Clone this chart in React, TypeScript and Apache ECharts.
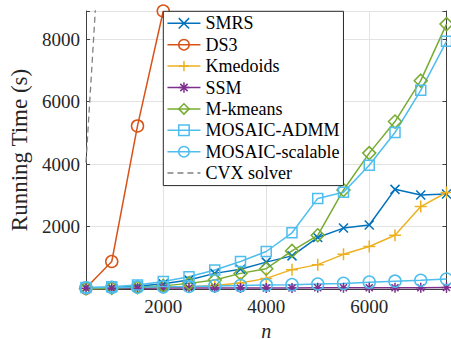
import React, { useEffect, useRef } from "react";
import * as echarts from "echarts";

const xs = [500, 1000, 1500, 2000, 2500, 3000, 3500, 4000, 4500, 5000, 5500, 6000, 6500, 7000, 7500];
const smrs = [40, 50, 90, 170, 290, 500, 630, 860, 1060, 1650, 1950, 2050, 3190, 3010, 3040];
const ds3X = [500, 1000, 1500, 2000];
const ds3 = [30, 880, 5220, 8900];
const kmedoids = [10, 20, 30, 50, 70, 110, 190, 340, 620, 780, 1110, 1360, 1720, 2640, 3090];
const ssm = [25, 25, 28, 30, 30, 32, 33, 35, 35, 38, 38, 40, 40, 42, 45];
const mkmeans = [15, 30, 60, 100, 180, 290, 500, 650, 1220, 1720, 3170, 4350, 5360, 6670, 8480];
const admm = [50, 75, 130, 240, 390, 610, 880, 1200, 1800, 2900, 3100, 3960, 5010, 6360, 7930];
const scalable = [40, 50, 60, 70, 80, 100, 110, 130, 140, 160, 180, 220, 250, 280, 320];
const cvxX = [500, 1000];
const cvx = [4050, 17500];

const names = ["SMRS", "DS3", "Kmedoids", "SSM", "M-kmeans", "MOSAIC-ADMM", "MOSAIC-scalable", "CVX solver"];

const FONT = "Liberation Serif";
const symX = "path://M0,0L10,10M0,10L10,0";
const symPlus = "path://M5,0L5,10M0,5L10,5";
const symStar = "path://M5,0L5,10M0,5L10,5M1.5,1.5L8.5,8.5M1.5,8.5L8.5,1.5";

function pts(x: number[], y: number[]) {
  return x.map((v, i) => [v, y[i]]);
}

function mk(name: string, data: number[][], color: string, symbol: string, size: number) {
  return {
    name,
    type: "line",
    data,
    symbol,
    symbolSize: size,
    showSymbol: true,
    lineStyle: { color, width: 1.5 },
    itemStyle: { color: "none", borderColor: color, borderWidth: 1.5 },
    emphasis: { disabled: true },
    clip: true,
  };
}

export default function App() {
  const ref = useRef<HTMLDivElement>(null);
  useEffect(() => {
    const chart = echarts.init(ref.current!, undefined, { renderer: "svg" });
    const axisColor = "#404040";
    const baseX = {
      type: "value",
      min: 500,
      max: 7500,
      splitNumber: 4,
      minInterval: 2000,
      maxInterval: 2000,
      axisLine: { show: true, lineStyle: { color: axisColor, width: 1 } },
      axisTick: { show: true, inside: true, length: 4, lineStyle: { color: axisColor } },
    };
    const baseY = {
      type: "value",
      min: 0,
      max: 8900,
      interval: 2000,
      axisLine: { show: true, lineStyle: { color: axisColor, width: 1 } },
      axisTick: { show: true, inside: true, length: 4, lineStyle: { color: axisColor } },
    };
    chart.setOption({
      animation: false,
      backgroundColor: "#fff",
      textStyle: { fontFamily: FONT },
      grid: { left: 86, right: 4.5, top: 11, bottom: 50, containLabel: false, outerBoundsMode: "none" },
      xAxis: [
        {
          ...baseX,
          position: "bottom",
          name: "n",
          nameLocation: "middle",
          nameGap: 27,
          nameTextStyle: { fontFamily: FONT, fontSize: 20, lineHeight: 20, fontStyle: "italic", color: "#262626" },
          axisLabel: {
            margin: 8,
            fontFamily: FONT,
            fontSize: 19,
            color: "#262626",
            formatter: (v: number) => (v % 2000 === 0 ? String(v) : ""),
          },
          splitLine: { show: true, lineStyle: { color: "#e3e3e3", width: 1 } },
        },
        {
          ...baseX,
          position: "top",
          axisLabel: { show: false },
          splitLine: { show: false },
        },
      ],
      yAxis: [
        {
          ...baseY,
          position: "left",
          name: "Running Time (s)",
          nameLocation: "middle",
          nameGap: 51,
          nameTextStyle: { fontFamily: FONT, fontSize: 23, color: "#262626" },
          axisLabel: {
            margin: 6,
            fontFamily: FONT,
            fontSize: 19,
            color: "#262626",
            formatter: (v: number) => (v !== 0 && v % 2000 === 0 ? String(v) : ""),
          },
          splitLine: { show: true, lineStyle: { color: "#e3e3e3", width: 1 } },
        },
        {
          ...baseY,
          position: "right",
          axisLabel: { show: false },
          splitLine: { show: false },
        },
      ],
      legend: {
        data: names,
        orient: "vertical",
        left: 163.3,
        top: 11.3,
        padding: [3, 4, 3.5, 3.4],
        itemWidth: 33,
        itemHeight: 13,
        itemGap: 3.4,
        backgroundColor: "#fff",
        borderColor: "#262626",
        borderWidth: 1,
        textStyle: { fontFamily: FONT, fontSize: 18, color: "#000", lineHeight: 18 },
        lineStyle: { width: 1.5 },
        itemStyle: { borderWidth: 1.5 },
      },
      series: [
        mk("SMRS", pts(xs, smrs), "#0072BD", symX, 9),
        mk("DS3", pts(ds3X, ds3), "#D95319", "circle", 12),
        mk("Kmedoids", pts(xs, kmedoids), "#EDB120", symPlus, 12),
        mk("SSM", pts(xs, ssm), "#7E2F8E", symStar, 10),
        mk("M-kmeans", pts(xs, mkmeans), "#77AC30", "diamond", 13),
        mk("MOSAIC-ADMM", pts(xs, admm), "#4DBEEE", "rect", 10),
        mk("MOSAIC-scalable", pts(xs, scalable), "#4DBEEE", "circle", 12),
        {
          name: "CVX solver",
          type: "line",
          data: pts(cvxX, cvx),
          symbol: "none",
          lineStyle: { color: "#808080", width: 1.3, type: [6, 4] },
          itemStyle: { color: "none", borderColor: "none", borderWidth: 0 },
          emphasis: { disabled: true },
          clip: true,
        },
      ],
    });
    return () => chart.dispose();
  }, []);
  return (
    <div
      ref={ref}
      style={{ position: "fixed", left: 0, top: 0, width: 451, height: 339 }}
    />
  );
}
